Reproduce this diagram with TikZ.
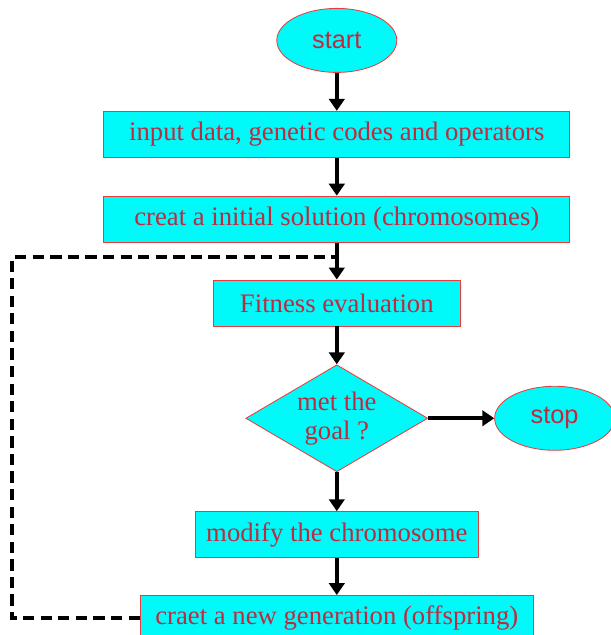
\documentclass[tikz,border=0pt]{standalone}
\usepackage{fontspec}
\setmainfont{Liberation Serif}
\setsansfont{Liberation Sans}
\usepackage{xcolor}
\usepackage{tikz}
\usetikzlibrary{arrows.meta,positioning,shapes.geometric,calc}

\definecolor{boxfill}{RGB}{0,250,250}
\definecolor{boxline}{RGB}{235,60,60}
\definecolor{boxtext}{RGB}{190,42,64}

\begin{document}
\begin{tikzpicture}[
  block/.style={draw=boxline, fill=boxfill, line width=0.6pt, minimum height=1.15cm,
    inner sep=0pt, text=boxtext, font=\fontsize{19}{20.5}\selectfont},
  term/.style={block, ellipse, minimum width=3.0cm, minimum height=1.6cm,
    font=\sffamily\fontsize{18}{22}\selectfont},
  decision/.style={block, diamond, aspect=1.7, minimum width=4.55cm,
    minimum height=2.675cm, align=center},
  arr/.style={-{Triangle[length=8.5pt,width=11pt]}, line width=3pt, black},
  loopline/.style={line width=2.8pt, black, dash pattern=on 8pt off 4.5pt}
]
\useasboundingbox (0,0) rectangle (15.275,-15.875);

% main column
\node[term] (start) at (8.42,-1.01) {start};
\node[block, minimum width=11.65cm, below=0.95cm of start] (input) {input data, genetic codes and operators};
\node[block, minimum width=11.65cm, below=0.95cm of input] (init) {creat a initial solution (chromosomes)};
\node[block, minimum width=6.18cm, below=0.925cm of init] (fitness) {Fitness evaluation};
\node[decision, below=0.95cm of fitness] (goal) {met the\\goal ?};
\node[term, right=1.65cm of goal] (stop) {stop};
\node[block, minimum width=7.08cm, below=0.975cm of goal] (modify) {modify the chromosome};
\node[block, minimum width=9.83cm, below=0.925cm of modify] (newgen) {craet a new generation (offspring)};

\draw[arr] (start) -- (input);
\draw[arr] (input) -- (init);
\draw[arr] (init) -- (fitness);
\draw[arr] (fitness) -- (goal);
\draw[arr] (goal) -- (stop);
\draw[arr] (goal) -- (modify);
\draw[arr] (modify) -- (newgen);

% loop back to evaluation
\coordinate (join) at ($(init.south)!0.4!(fitness.north)$);
\coordinate (rail) at (0.3,0);
\draw[loopline] (newgen.west) -| (rail |- join) -- (join);
\end{tikzpicture}
\end{document}
